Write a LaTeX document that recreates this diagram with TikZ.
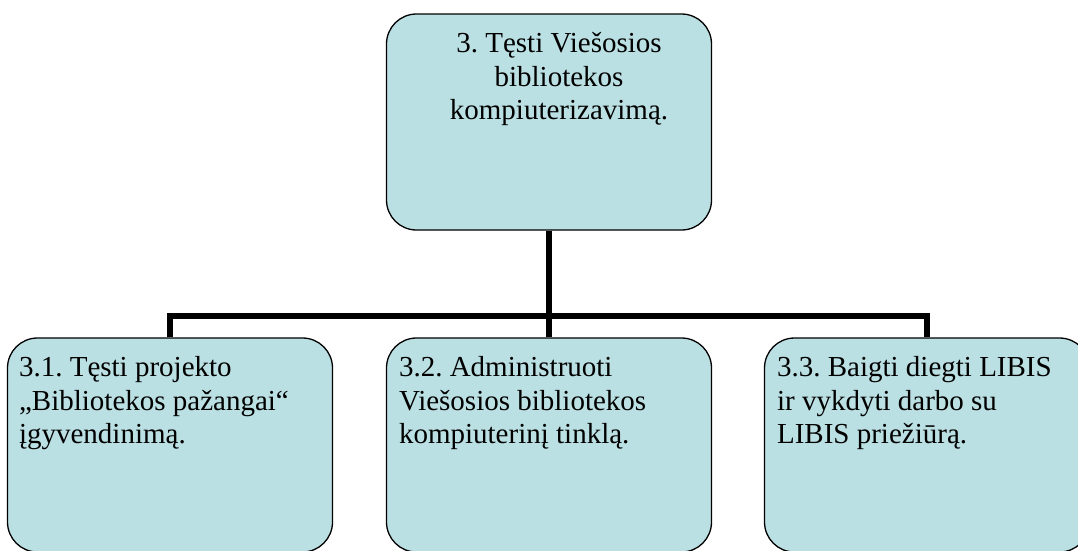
\documentclass[tikz,border=0pt]{standalone}
\usepackage{fontspec}
\setmainfont{Liberation Serif}
\usepackage{xcolor}
\usetikzlibrary{positioning}
\definecolor{boxblue}{HTML}{BBE0E3}

\begin{document}
\frenchspacing
\begin{tikzpicture}[x=1pt, y=1pt,
  box/.style={draw, line width=1.3pt, fill=boxblue, rounded corners=30pt,
    minimum width=325pt, minimum height=214pt, inner sep=0pt},
  txt/.style={inner sep=0pt, font=\fontsize{29}{33.5}\selectfont},
  conn/.style={line width=6pt}]
  \clip (0,0) rectangle (1078,-550);
  \node[box, minimum height=216pt] (task) at (549,-122) {};
  \node[box] (sub1) at (170,-445) {};
  \node[box] (sub2) at (549,-445) {};
  \node[box] (sub3) at (927,-445) {};
  \coordinate (bus) at (549,-316);
  % connectors
  \draw[conn] (task.south) -- (sub2.north);
  \draw[conn] (sub1.north) |- (bus) -| (sub3.north);
  % texts
  \node[txt, anchor=north, align=center] (t0) at ([xshift=10pt, yshift=-19pt]task.north)
    {3. Tęsti Viešosios\\bibliotekos\\kompiuterizavimą.};
  \node[txt, anchor=north west, align=left] (t1) at ([xshift=12pt, yshift=-19pt]sub1.north west)
    {3.1. Tęsti projekto\\„Bibliotekos pažangai“\\įgyvendinimą.};
  \node[txt, anchor=north west, align=left] (t2) at ([xshift=13pt, yshift=-19pt]sub2.north west)
    {3.2. Administruoti\\Viešosios bibliotekos\\kompiuterinį tinklą.};
  \node[txt, anchor=north west, align=left] (t3) at ([xshift=13pt, yshift=-19pt]sub3.north west)
    {3.3. Baigti diegti LIBIS\\ir vykdyti darbo su\\LIBIS priežiūrą.};
\end{tikzpicture}
\end{document}
